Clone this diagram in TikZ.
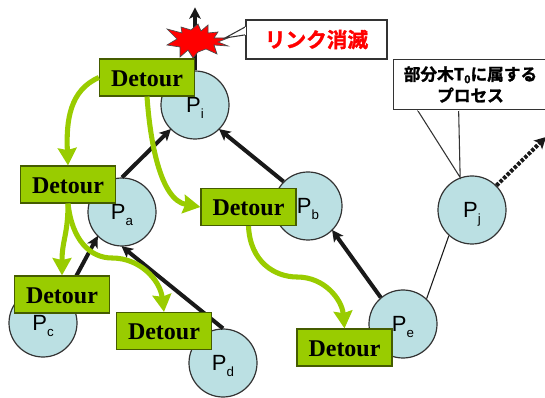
\documentclass[tikz,border=0pt]{standalone}
\usepackage{fontspec}
\setmainfont{Liberation Sans}
\newfontfamily\detourfont{Liberation Serif}
\newfontfamily\cjk[BoldFont={Noto Sans CJK JP Bold},BoldFeatures={FakeBold=1.5}]{Noto Sans CJK JP}
\usetikzlibrary{arrows.meta}
\newcommand{\proc}[1]{P\raisebox{-4.5pt}[0pt][0pt]{\fontsize{10}{10}\selectfont #1}}
\definecolor{procblue}{HTML}{BBE0E3}
\definecolor{detourgreen}{HTML}{99CC00}
\tikzstyle{p} = [circle, draw=black!80, fill=procblue, line width=0.9pt, minimum size=51pt, inner sep=0pt, font=\fontsize{16.5}{18}\selectfont]
\tikzstyle{d} = [rectangle, draw=black!55!detourgreen, fill=detourgreen, line width=1.1pt, minimum width=71pt, minimum height=27.5pt, inner sep=0pt, text height=13.5pt, font=\detourfont\bfseries\fontsize{18}{18}\selectfont]
\tikzstyle{n} = [rectangle, draw=black!80, fill=white, line width=0.8pt, inner sep=0pt, align=center]
\tikzstyle{l} = [draw=black!90, line width=3pt, -{Stealth[length=8.5pt,width=8.5pt,inset=2pt]}, shorten >=-0.5pt]
\tikzstyle{g} = [draw=detourgreen, line width=3.8pt, -{Stealth[length=13pt,width=14pt,inset=1.5pt]}]
\begin{document}
\begin{tikzpicture}[x=0.75pt, y=-0.75pt]
    \useasboundingbox (0,0) rectangle (545,398);
    % Place nodes
    \node [p] (pi) at (195,105) {\proc{i}};
    \node [p] (pa) at (122,212) {\proc{a}};
    \node [p] (pb) at (308,206) {\proc{b}};
    \node [p] (pc) at (43,323) {\proc{c}};
    \node [p] (pd) at (223,363) {\proc{d}};
    \node [p] (pe) at (403,324) {\proc{e}};
    \node [p] (pj) at (472,210) {\proc{j}};
    \coordinate (up) at (195,8);
    \coordinate (out) at (546,137);
    \coordinate (hit) at (225,38);

    % Draw edges
    \draw [l] (pi.90) -- (up);
    \draw [l] (pa.90) -- (pi.225);
    \draw [l] (pb.135) -- (pi.-45);
    \draw [l] (pc.50) -- (pa.225);
    \draw [l] (pd.90) -- (pa.-90);
    \draw [l] (pe.130) -- (pb.-45);
    \draw [draw=black!90, line width=0.8pt] (pe.47) -- (pj.-132);
    \draw [draw=black!90, line width=3pt, dash pattern=on 2.5pt off 1.2pt, -{Stealth[length=8.5pt,width=9pt,inset=2pt]}] (pj.45) -- (out);

    % Broken link
    \draw [fill=red, draw=black!70, line width=0.5pt] (167,29) -- (182,33) -- (181,27) -- (191,30) -- (198,24) -- (201,31) -- (208,25) -- (208,33) -- (218,32) -- (214,38) -- (228,38) -- (218,42) -- (228,46) -- (214,45) -- (217,54) -- (206,49) -- (198,52) -- (193,58) -- (188,50) -- (180,57) -- (180,47) -- (167,45) -- (177,39) -- cycle;

    % Notes
    \node [n, minimum width=105.75pt, minimum height=29.25pt, text=red, font=\cjk\bfseries\fontsize{15.5}{18}\selectfont] (lost) at (316.5,39.5) {リンク消滅};
    \draw [fill=white, draw=black!80, line width=0.8pt] ([yshift=9.5pt]lost.west) -- (hit) -- ([yshift=3.5pt]lost.west);
    \draw [white, line width=1.2pt] ([yshift=9.5pt]lost.west) -- ([yshift=3.5pt]lost.west);
    \node [n, minimum width=116pt, minimum height=38pt, font=\cjk\bfseries\fontsize{12.5}{16}\selectfont] (sub) at (470.5,84.5) {部分木T\raisebox{-2pt}{\fontsize{8}{8}\selectfont 0}に属する\\プロセス};
    \draw [fill=white, draw=black!80, line width=0.8pt] ([xshift=18.75pt]sub.south west) -- (pj.110) -- ([xshift=49.5pt]sub.south west);
    \draw [white, line width=1.2pt] ([xshift=18.75pt]sub.south west) -- ([xshift=49.5pt]sub.south west);

    % Detour boxes
    \node [d] (di) at (147,77.5) {Detour};
    \node [d] (da) at (68,184.5) {Detour};
    \node [d] (dc) at (62,294.5) {Detour};
    \node [d] (dd) at (164,331) {Detour};
    \node [d] (db) at (248.5,207) {Detour};
    \node [d] (de) at (344.5,347.5) {Detour};

    % Detour flow
    \draw [g] (di.west) .. controls (70,90) and (66,120) .. (da.north);
    \draw [g] (di.south) .. controls (150,140) and (160,200) .. (db.west);
    \draw [g] (da.south) .. controls (68,235) and (62,240) .. (dc.north);
    \draw [g] (da.south) .. controls (72,240) and (90,258) .. (112,258) .. controls (140,258) and (160,280) .. (dd.north);
    \draw [g] (db.south) .. controls (250,262) and (275,277) .. (297,277) .. controls (325,277) and (342,300) .. (de.north);
\end{tikzpicture}
\end{document}
